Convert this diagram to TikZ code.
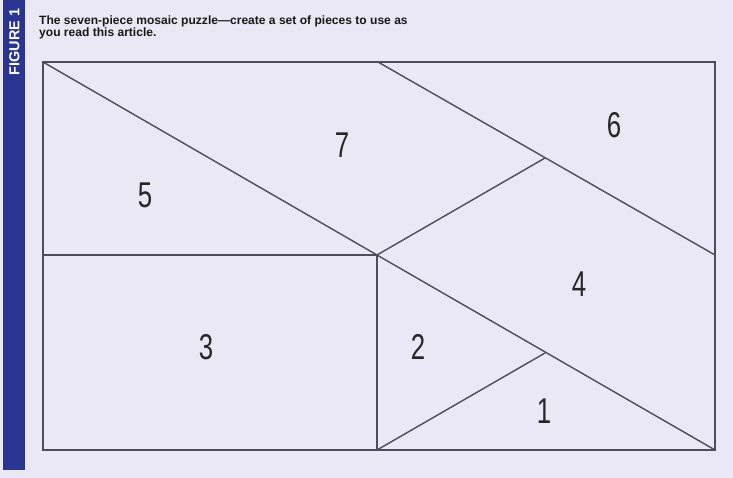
\documentclass[tikz,border=0pt]{standalone}
\usepackage{fontspec}
\setmainfont{Liberation Sans}
\newfontfamily\numfont[FakeStretch=0.72]{Liberation Sans}
\newfontfamily\capfont{Liberation Sans Bold}
\newfontfamily\figfont{Liberation Sans Bold}
\definecolor{bgcol}{RGB}{234,232,244}
\definecolor{barcol}{RGB}{42,52,145}
\definecolor{linecol}{RGB}{76,76,92}
\begin{document}
\begin{tikzpicture}[x=1bp,y=-1bp,
  piece/.style={draw=linecol,line width=1.4bp,line cap=round,line join=round},
  frame/.style={draw=linecol,line width=1.9bp,line join=miter},
  num/.style={inner sep=0pt,text=black!85,font=\numfont\fontsize{36}{36}\selectfont},
  caption/.style={inner sep=0pt,anchor=base west,align=left,text=black!90,font=\capfont\fontsize{12.1}{12.5}\selectfont}]
\useasboundingbox (0,0) rectangle (733,478);
\fill[bgcol] (0,0) rectangle (733,478);
\fill[barcol] (3,0) rectangle (25,470);
\node[rotate=90,text=white,inner sep=0pt,font=\figfont\fontsize{14.5}{14.5}\selectfont] (fig) at (14.5,42) {FIGURE 1};
\node[caption] (cap) at (39,36.5) {The seven-piece mosaic puzzle—create a set of pieces to use as\\you read this article.};
% corners and key points
\coordinate (TL) at (43,62);
\coordinate (TR) at (715,62);
\coordinate (BR) at (715,450);
\coordinate (BL) at (43,450);
\coordinate (TM) at (378,62);
\coordinate (LM) at (43,255);
\coordinate (RM) at (715,255);
\coordinate (C) at (377,255);
\coordinate (BM) at (377,450);
\coordinate (P) at (545,158);
\coordinate (Q) at (545,353);
\draw[frame] (TL) -- (TR) -- (BR) -- (BL) -- cycle;
\draw[piece] (TL) -- (C) -- (BR);
\draw[piece] (TM) -- (RM);
\draw[piece] (LM) -- (C) -- (BM);
\draw[piece] (C) -- (P);
\draw[piece] (BM) -- (Q);
\node[num] (n7) at (342,145) {7};
\node[num] (n6) at (614,125) {6};
\node[num] (n5) at (145,195) {5};
\node[num] (n4) at (579,284) {4};
\node[num] (n3) at (206,347) {3};
\node[num] (n2) at (418,347) {2};
\node[num] (n1) at (544,411) {1};
\end{tikzpicture}
\end{document}
